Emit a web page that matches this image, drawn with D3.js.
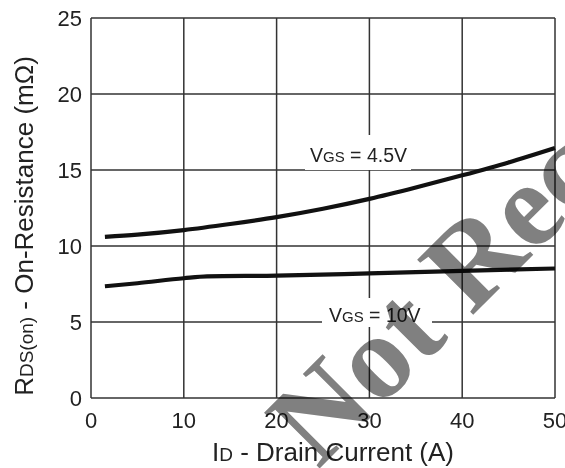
<!DOCTYPE html>
<html><head><meta charset="utf-8">
<script src="https://cdn.jsdelivr.net/npm/d3@7"></script>
<style>
html,body{margin:0;padding:0;background:#fff;}
svg{display:block;font-family:"Liberation Sans",Arial,sans-serif;}
</style></head>
<body>
<svg id="chart" width="565" height="468"></svg>
<script>
const xTicks = [0,10,20,30,40,50];
const yTicks = [0,5,10,15,20,25];
const seriesNames = ["VGS = 4.5V","VGS = 10V"];
const current45 = [1.5,5,10,15,20,25,30,35,40,45,50];
const rds45 = [10.6,10.75,11.05,11.45,11.9,12.45,13.1,13.85,14.65,15.5,16.45];
const current10 = [1.5,5,10,12.5,20,30,40,50];
const rds10 = [7.35,7.55,7.88,8.0,8.05,8.2,8.37,8.52];
const watermark = "Not Recommended";

const svg = d3.select("#chart");
const x = d3.scaleLinear().domain([0,50]).range([91,555]);
const y = d3.scaleLinear().domain([0,25]).range([398,18]);
const gridColor = "#333";

// grid
const g = svg.append("g");
g.selectAll("line.v").data(xTicks).join("line")
  .attr("x1",d=>x(d)).attr("x2",d=>x(d)).attr("y1",y(0)).attr("y2",y(25))
  .attr("stroke",gridColor).attr("stroke-width",1.5);
g.selectAll("line.h").data(yTicks).join("line")
  .attr("y1",d=>y(d)).attr("y2",d=>y(d)).attr("x1",x(0)).attr("x2",x(50))
  .attr("stroke",gridColor).attr("stroke-width",1.5);

// tick labels
svg.append("g").selectAll("text").data(xTicks).join("text")
  .attr("x",d=>x(d)).attr("y",428).attr("text-anchor","middle")
  .attr("font-size",22).attr("fill","#222").text(d=>d);
svg.append("g").selectAll("text").data(yTicks).join("text")
  .attr("x",82).attr("y",d=>y(d)).attr("dy","0.36em").attr("text-anchor","end")
  .attr("font-size",22).attr("fill","#222").text(d=>d);

// curve labels with white background
function subLabel(parent, xx, yy, main, sub, rest, fs, sfs){
  const t = parent.append("text").attr("x",xx).attr("y",yy).attr("font-size",fs).attr("fill","#222");
  t.append("tspan").text(main);
  t.append("tspan").attr("font-size",sfs).text(sub);
  t.append("tspan").text(rest);
  return t;
}
const lab = svg.append("g");
lab.append("rect").attr("x",305).attr("y",135).attr("width",106).attr("height",35).attr("fill","#fff");
subLabel(lab, 310, 162, "V", "GS", " = 4.5V", 19.5, 15);
lab.append("rect").attr("x",322).attr("y",298).attr("width",110).attr("height",29).attr("fill","#fff");
subLabel(lab, 329, 322, "V", "GS", " = 10V", 19.5, 15);

// curves
const line = d3.line().x(d=>x(d[0])).y(d=>y(d[1])).curve(d3.curveMonotoneX);
svg.append("path").datum(d3.zip(current45, rds45)).attr("d",line)
  .attr("fill","none").attr("stroke","#111").attr("stroke-width",4.2);
svg.append("path").datum(d3.zip(current10, rds10)).attr("d",line)
  .attr("fill","none").attr("stroke","#111").attr("stroke-width",4.2);

// axis titles
const xt = svg.append("text").attr("x",333).attr("y",461).attr("text-anchor","middle")
  .attr("font-size",26).attr("fill","#222");
xt.append("tspan").text("I");
xt.append("tspan").attr("font-size",19).text("D");
xt.append("tspan").text(" - Drain Current (A)");

const yt = svg.append("text").attr("transform","translate(33,226) rotate(-90)")
  .attr("text-anchor","middle").attr("font-size",26).attr("fill","#222");
yt.append("tspan").text("R");
yt.append("tspan").attr("font-size",19).text("DS(on)");
yt.append("tspan").text(" - On-Resistance (m\u03A9)");

// watermark
svg.append("text").attr("transform","translate(318,470) rotate(-45)")
  .attr("font-family","'Liberation Serif','Times New Roman',serif")
  .attr("font-weight","bold").attr("font-size",120).attr("fill","#808080")
  .style("mix-blend-mode","multiply").text(watermark);
</script>
</body></html>
